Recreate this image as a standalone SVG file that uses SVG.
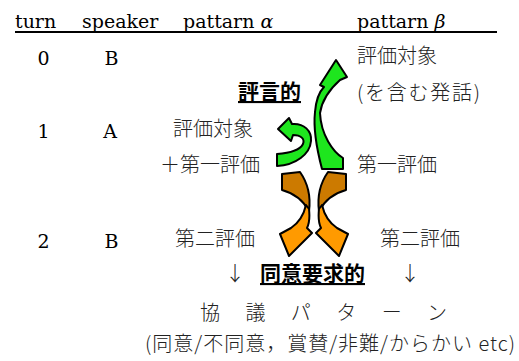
<svg xmlns="http://www.w3.org/2000/svg" width="519" height="361" viewBox="0 0 519 361">
<style>
.lat{font-family:"DejaVu Serif","Liberation Serif",serif;font-size:19px;fill:#000}
.jp{font-family:"Noto Sans CJK JP","Noto Sans CJK SC",sans-serif;font-size:20px;font-weight:300;fill:#222}
.bd{font-family:"Noto Sans CJK JP","Noto Sans CJK SC",sans-serif;font-size:21px;font-weight:700;fill:#000;text-decoration:underline}
.ar{stroke:#000;stroke-width:2;stroke-linejoin:round}
.g{fill:#1EE61E}
.od{fill:#CC7A00}
.ol{fill:#FF9A00}
</style>
<rect width="519" height="361" fill="#fff"/>
<g id="header">
<text class="lat" x="15" y="28">turn</text>
<text class="lat" x="82" y="28">speaker</text>
<text class="lat" x="183" y="28">pattarn <tspan font-style="italic">α</tspan></text>
<text class="lat" x="357" y="28">pattarn <tspan font-style="italic">β</tspan></text>
<line x1="15" y1="32" x2="497" y2="32" stroke="#000" stroke-width="2"/>
</g>
<g id="turn0">
<text class="lat" x="43.5" y="65" text-anchor="middle">0</text>
<text class="lat" x="111.5" y="65" text-anchor="middle">B</text>
<text class="jp" x="357" y="63">評価対象</text>
<text class="jp" x="357" y="100" textLength="123">(を含む発話)</text>
</g>
<g id="turn1">
<text class="lat" x="43.5" y="138" text-anchor="middle">1</text>
<text class="lat" x="110" y="138" text-anchor="middle">A</text>
<text class="jp" x="173" y="136">評価対象</text>
<text class="jp" x="160" y="172">＋第一評価</text>
<text class="jp" x="357" y="172">第一評価</text>
</g>
<g id="turn2">
<text class="lat" x="43.5" y="248" text-anchor="middle">2</text>
<text class="lat" x="111.5" y="248" text-anchor="middle">B</text>
<text class="jp" x="175" y="246">第二評価</text>
<text class="jp" x="380" y="246">第二評価</text>
</g>
<g id="label-hyogen">
<text class="bd" x="238" y="99">評言的</text>
</g>
<g id="label-doi">
<text class="jp" x="225" y="281">↓</text>
<text class="bd" x="260" y="281">同意要求的</text>
<text class="jp" x="400" y="281">↓</text>
</g>
<g id="kyogi">
<text class="jp" x="200" y="320" letter-spacing="10.5">協 議 パ タ ー ン</text>
<text class="jp" x="145" y="351" textLength="370">(同意/不同意，賞賛/非難/からかい etc)</text>
</g>
<g id="connectors">
<path class="ar g" d="M322,169 C317,150 313,130 315,112 C316,100 319,92 324,87 L320,85 L336,60 L347,77 L340,80 C331,88 322,100 320,113 C321,135 333,152 343,158 L343,169 Z"/>
<path class="ar g" d="M277,154 C291,153 300,150 303,144 C305,139 301,135 293,135 L291,141 L278,129 L289,118 L292,124 C304,123 312,131 311,141 C310,154 296,165 277,166 Z"/>
<g id="orange-left">
<path class="ar od" d="M282,174 L300,172 C307,182 311,196 309,211 C303,200 293,193 282,190 Z"/>
<path class="ar ol" d="M309,209 C310,218 309,224 307,228 L312,233 L289,256 L280,234 L291,228 C297,224 303,218 306,205 Z"/>
</g>
<g id="orange-right" transform="translate(628,0) scale(-1,1)">
<path class="ar od" d="M282,174 L300,172 C307,182 311,196 309,211 C303,200 293,193 282,190 Z"/>
<path class="ar ol" d="M309,209 C310,218 309,224 307,228 L312,233 L289,256 L280,234 L291,228 C297,224 303,218 306,205 Z"/>
</g>
</g>
</svg>
